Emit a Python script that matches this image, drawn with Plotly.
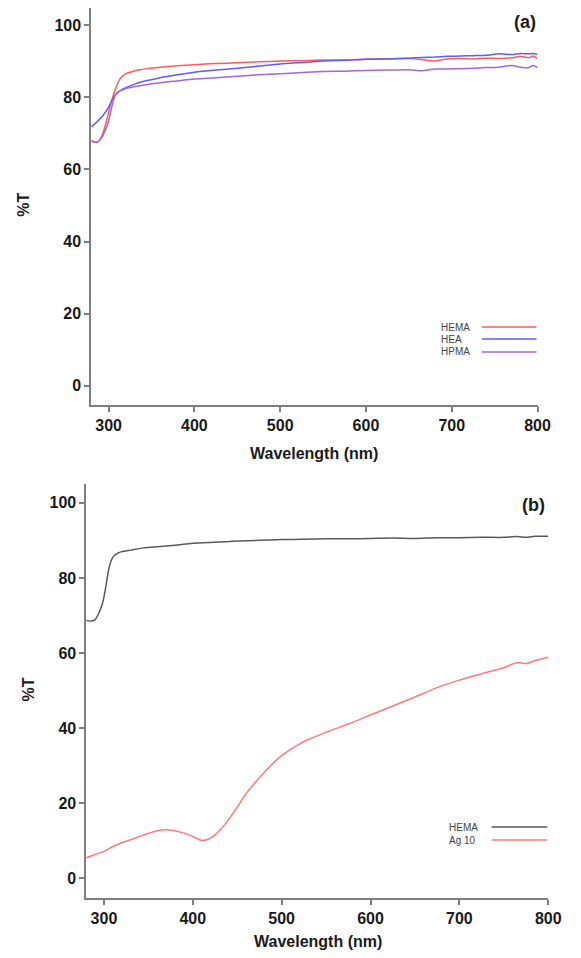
import plotly.graph_objects as go

# ---------------- data: panel (a) ----------------
wl_a = [280, 283, 287, 290, 293, 296, 299, 302, 305, 308, 311, 314, 318, 322, 328, 335,
        345, 360, 380, 400, 425, 450, 475, 500, 525, 550, 575, 600, 625, 650, 665, 680,
        695, 710, 725, 740, 755, 770, 780, 790, 795, 800]
hema_a = [68.0, 67.6, 67.5, 68.3, 69.8, 72.0, 74.8, 77.8, 80.2, 82.3, 84.0, 85.3, 86.2, 86.7,
          87.1, 87.5, 87.9, 88.3, 88.7, 89.0, 89.3, 89.5, 89.8, 90.0, 90.1, 90.3, 90.3, 90.5,
          90.6, 90.7, 90.4, 90.0, 90.6, 90.7, 90.6, 90.8, 90.7, 90.9, 91.3, 90.9, 91.4, 90.7]
hea_a = [71.7, 72.4, 73.3, 74.0, 74.8, 75.8, 76.8, 78.2, 79.6, 80.7, 81.4, 81.9, 82.4, 82.8,
         83.4, 84.0, 84.6, 85.4, 86.2, 86.9, 87.5, 88.0, 88.6, 89.2, 89.6, 90.0, 90.2, 90.5,
         90.6, 90.8, 91.0, 91.1, 91.3, 91.4, 91.5, 91.6, 92.0, 91.8, 92.1, 92.0, 92.1, 91.8]
hpma_a = [67.8, 67.6, 67.6, 68.2, 69.2, 70.8, 72.5, 75.5, 78.6, 80.6, 81.4, 81.8, 82.2, 82.5,
          82.8, 83.1, 83.5, 84.0, 84.5, 85.0, 85.4, 85.8, 86.2, 86.5, 86.8, 87.1, 87.2, 87.4,
          87.5, 87.6, 87.3, 87.8, 87.8, 87.9, 88.0, 88.2, 88.3, 88.8, 88.3, 88.2, 88.8, 88.2]

# ---------------- data: panel (b) ----------------
wl_b_hema = [280, 285, 290, 293, 296, 299, 302, 305, 308, 311, 315, 320, 330, 345, 360, 380,
             400, 425, 450, 475, 500, 525, 550, 575, 600, 625, 650, 675, 700, 725, 750, 765,
             775, 785, 800]
hema_b = [68.7, 68.5, 68.9, 70.0, 71.6, 73.8, 77.5, 81.8, 84.5, 85.8, 86.5, 87.0, 87.4, 88.0,
          88.3, 88.7, 89.2, 89.5, 89.8, 90.0, 90.2, 90.3, 90.4, 90.4, 90.5, 90.6, 90.5, 90.7,
          90.7, 90.8, 90.8, 91.0, 90.8, 91.1, 91.1]
wl_b_ag = [280, 290, 300, 310, 320, 330, 345, 360, 370, 385, 400, 410, 418, 425, 432, 440,
           450, 460, 475, 490, 500, 515, 530, 550, 575, 600, 625, 650, 675, 700, 725, 750,
           765, 775, 785, 800]
ag10_b = [5.5, 6.4, 7.2, 8.5, 9.5, 10.3, 11.6, 12.7, 13.0, 12.4, 11.2, 10.1, 10.5, 11.6,
          13.2, 15.6, 19.0, 22.6, 26.8, 30.6, 32.7, 35.1, 37.0, 38.9, 41.1, 43.5, 45.9, 48.3,
          50.8, 52.8, 54.5, 56.1, 57.5, 57.2, 58.0, 58.9]

y_ticks = [0, 20, 40, 60, 80, 100]
x_ticks = [300, 400, 500, 600, 700, 800]

# the page body has an 8 px margin on every side; keep the figure inside it
OFF = 8
W, H = 581 - 2 * OFF, 958 - 2 * OFF


def px(x):
    return min(1.0, max(0.0, (x - OFF) / W))


def py(y):
    return min(1.0, max(0.0, 1 - (y - OFF) / H))


FONT = "Liberation Sans, Arial, sans-serif"

fig = go.Figure()
sp = dict(width=1.5, shape="spline", smoothing=0.6)
fig.add_trace(go.Scatter(x=wl_a, y=hema_a, mode="lines", line=dict(color="#ff5c5c", **sp), xaxis="x", yaxis="y"))
fig.add_trace(go.Scatter(x=wl_a, y=hea_a, mode="lines", line=dict(color="#5c5cff", **sp), xaxis="x", yaxis="y"))
fig.add_trace(go.Scatter(x=wl_a, y=hpma_a, mode="lines", line=dict(color="#a466dc", **sp), xaxis="x", yaxis="y"))
fig.add_trace(go.Scatter(x=wl_b_hema, y=hema_b, mode="lines", line=dict(color="#5a5a5a", **sp), xaxis="x2", yaxis="y2"))
fig.add_trace(go.Scatter(x=wl_b_ag, y=ag10_b, mode="lines", line=dict(color="#ff7a7a", **sp), xaxis="x2", yaxis="y2"))

axis_common = dict(showline=True, linecolor="#7f7f7f", linewidth=1.5, ticks="outside",
                   tickcolor="#7f7f7f", ticklen=5, tickwidth=1.5, showgrid=False, zeroline=False,
                   tickfont=dict(family=FONT, size=16, color="#1a1a1a", weight="bold"))

fig.update_layout(
    width=W, height=H, margin=dict(l=0, r=0, t=0, b=0),
    paper_bgcolor="white", plot_bgcolor="white", showlegend=False,
    xaxis=dict(domain=[px(93), px(550)], range=[279.5, 800], tickvals=x_ticks, anchor="y", **axis_common),
    yaxis=dict(domain=[py(405), py(8)], range=[-5.3, 104.7], tickvals=y_ticks, anchor="x", **axis_common),
    xaxis2=dict(domain=[px(88), px(561)], range=[280, 800], tickvals=x_ticks, anchor="y2", **axis_common),
    yaxis2=dict(domain=[py(898), py(484)], range=[-5.2, 105], tickvals=y_ticks, anchor="x2", **axis_common),
)

bold = dict(family=FONT, size=16, color="#1a1a1a", weight="bold")
ann = [
    dict(x=px(23), y=py(205), text="%T", textangle=-90, font=bold),
    dict(x=px(28), y=py(690), text="%T", textangle=-90, font=bold),
    dict(x=px(321), y=py(453), text="Wavelength (nm)", font=bold),
    dict(x=px(325), y=py(941), text="Wavelength (nm)", font=bold),
    dict(x=px(537), y=py(22), text="(a)", font=dict(family=FONT, size=18, color="#1a1a1a", weight="bold")),
    dict(x=px(546), y=py(505), text="(b)", font=dict(family=FONT, size=18, color="#1a1a1a", weight="bold")),
]
leg_font = dict(family=FONT, size=10, color="#444444")
legend_a = [("HEMA", "#ff5c5c", 327), ("HEA", "#5c5cff", 339), ("HPMA", "#a466dc", 352)]
legend_b = [("HEMA", "#5a5a5a", 827), ("Ag 10", "#ff7a7a", 840)]
shapes = []
for name, col, yy in legend_a:
    ann.append(dict(x=px(449), y=py(yy), text=name, xanchor="left", font=leg_font))
    shapes.append(dict(type="line", xref="paper", yref="paper", x0=px(493), x1=px(549),
                       y0=py(yy), y1=py(yy), line=dict(color=col, width=1.5)))
for name, col, yy in legend_b:
    ann.append(dict(x=px(457), y=py(yy), text=name, xanchor="left", font=leg_font))
    shapes.append(dict(type="line", xref="paper", yref="paper", x0=px(503), x1=px(560),
                       y0=py(yy), y1=py(yy), line=dict(color=col, width=1.5)))
for a in ann:
    a.update(xref="paper", yref="paper", showarrow=False)
    a.setdefault("xanchor", "center")
    a.setdefault("yanchor", "middle")

fig.update_layout(annotations=ann, shapes=shapes)
fig.write_html("out.html")
